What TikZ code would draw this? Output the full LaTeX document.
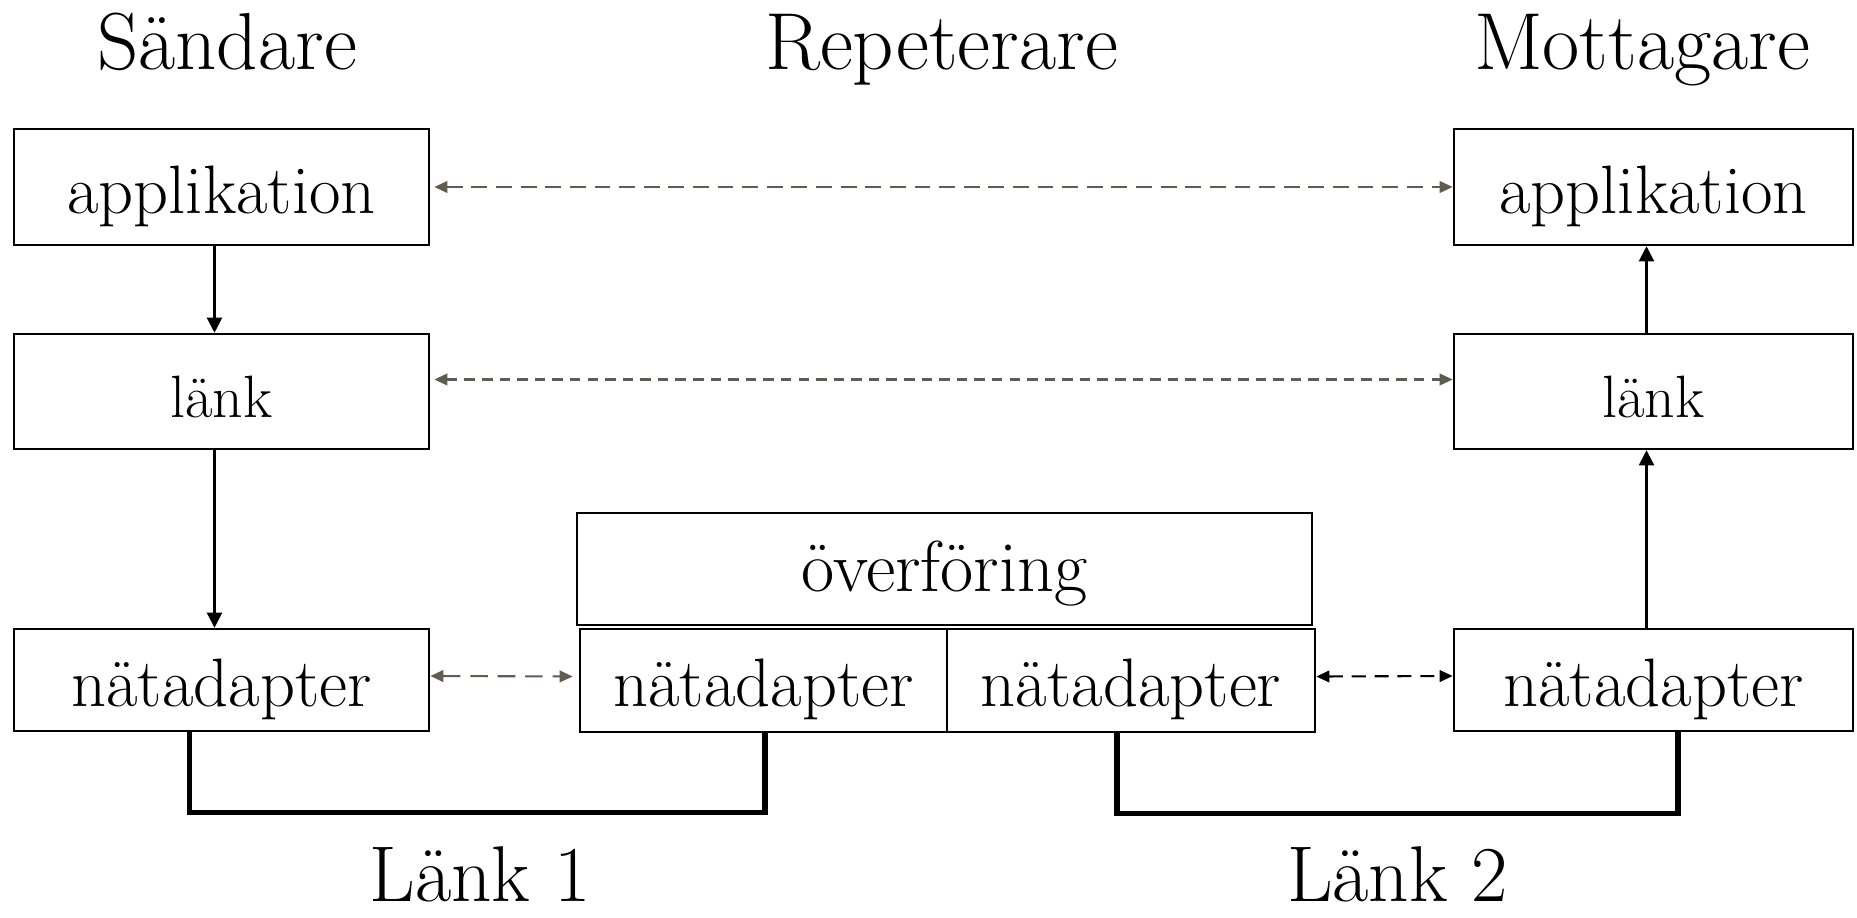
\documentclass[tikz,border=0pt]{standalone}
\usepackage{fontspec}
\usepackage{tikz}
\usetikzlibrary{positioning}
\usetikzlibrary{arrows.meta}

\definecolor{peergray}{RGB}{96,91,83}
\newcommand\ttlfont{\fontsize{23}{27}\selectfont}
\newcommand\lyrfont{\fontsize{19.5}{23}\selectfont}
\newcommand\lnkfont{\fontsize{17}{20}\selectfont}

\begin{document}
\begin{tikzpicture}[x=0.01cm,y=-0.01cm,
    layer/.style={draw,line width=0.7pt,inner sep=0pt,minimum height=1.16cm,font=\lyrfont,
        text height=14.8pt,text depth=0pt},
    flow/.style={line width=0.6pt,-{Triangle[length=4.3pt,width=4.3pt]}},
    peer/.style={line width=0.6pt,peergray,
        {Triangle[length=3.7pt,width=3.3pt]}-{Triangle[length=3.7pt,width=3.3pt]}},
    wire/.style={line width=1.5pt}]

    \useasboundingbox (0,0) rectangle (1857,918);

    %titles
    \node[anchor=base,font=\ttlfont] (tsend) at (227,70) {Sändare};
    \node[anchor=base,font=\ttlfont] (trep) at (941.5,70) {Repeterare};
    \node[anchor=base,font=\ttlfont] (trecv) at (1642,70) {Mottagare};

    %sender stack
    \node[layer,minimum width=4.15cm] (sapp) at (221.5,187) {applikation};
    \node[layer,minimum width=4.15cm,minimum height=1.15cm,font=\lnkfont] (slink) at (221.5,391.5) {länk};
    \node[layer,minimum width=4.15cm,minimum height=1.02cm] (snat) at (221.5,680) {nätadapter};

    %repeater
    \node[layer,minimum width=7.35cm,minimum height=1.12cm,font=\fontsize{20.5}{24}\selectfont,
        text height=13pt] (trans) at (944.5,569) {överföring};
    \node[layer,minimum width=3.67cm,minimum height=1.03cm] (mnatl) at (763.5,680.5) {nätadapter};
    \node[layer,minimum width=3.68cm,minimum height=1.03cm] (mnatr) at (1131,680.5) {nätadapter};

    %receiver stack
    \node[layer,minimum width=3.99cm] (rapp) at (1653.5,187) {applikation};
    \node[layer,minimum width=3.99cm,minimum height=1.15cm,font=\lnkfont] (rlink) at (1653.5,391.5) {länk};
    \node[layer,minimum width=3.99cm,minimum height=1.02cm] (rnat) at (1653.5,680) {nätadapter};

    %down and up
    \draw[flow] ([xshift=-0.07cm]sapp.south) -- ([xshift=-0.07cm]slink.north);
    \draw[flow] ([xshift=-0.07cm]slink.south) -- ([xshift=-0.07cm]snat.north);
    \draw[flow] ([xshift=-0.07cm]rnat.north) -- ([xshift=-0.07cm]rlink.south);
    \draw[flow] ([xshift=-0.07cm]rlink.north) -- ([xshift=-0.07cm]rapp.south);

    %peer to peer
    \draw[peer,dash pattern=on 4.5pt off 2.5pt,shorten <=0.04cm] (sapp.east) -- (rapp.west);
    \draw[peer,dash pattern=on 3pt off 2pt,shorten <=0.04cm]
        ([yshift=0.12cm]slink.east) -- ([yshift=0.12cm]rlink.west);
    \draw[peer,dash pattern=on 5pt off 2.8pt,shorten >=0.06cm]
        ([yshift=0.04cm]snat.east) -- ([yshift=0.04cm]mnatl.west);
    \draw[peer,black,dash pattern=on 4pt off 2.5pt]
        ([yshift=0.04cm]mnatr.east) -- ([yshift=0.04cm]rnat.west);

    %cables
    \draw[wire] ([xshift=-0.32cm]snat.south) -- ++(0,80) -| ([xshift=0.015cm]mnatl.south);
    \draw[wire] ([xshift=-0.14cm]mnatr.south) -- ++(0,80) -| ([xshift=0.245cm]rnat.south);

    \node[anchor=base,inner sep=0pt,font=\fontsize{22.5}{26}\selectfont] (link1) at (480,901) {Länk 1};
    \node[anchor=base,inner sep=0pt,font=\fontsize{22.5}{26}\selectfont] (link2) at (1397.5,901) {Länk 2};

\end{tikzpicture}
\end{document}
